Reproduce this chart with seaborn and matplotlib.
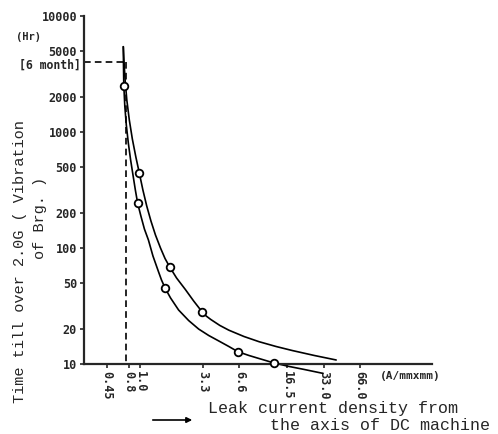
import numpy as np
import pandas as pd
import matplotlib
matplotlib.use('Agg')
import matplotlib.pyplot as plt
from matplotlib.patches import FancyArrowPatch
import seaborn as sns

# ---- donnees ----
# courbe superieure (droite)
up_x = [0.7218, 0.7328, 0.7470, 0.7720, 0.8096, 0.8577, 0.9173, 0.9810,
        1.0491, 1.1286, 1.2232, 1.3335, 1.4678, 1.6003, 1.7446, 1.9953,
        2.3579, 2.7652, 3.2426, 3.5142, 3.8312, 4.5531, 5.4117, 7.2176,
        9.6235, 13.335, 18.129, 27.652, 41.93]
up_y = [5436, 3933, 2807, 1887, 1269, 870.4, 608.5, 440.6,
        316.2, 230.2, 170.9, 129.4, 100, 81.2, 69.0, 55.1,
        43.9, 34.9, 28.2, 25.9, 24.2, 21.5, 19.56, 17.26,
        15.57, 14.15, 13.07, 11.84, 10.83]
# courbe inferieure (gauche)
lo_x = [0.7218, 0.7244, 0.7286, 0.7428, 0.7645, 0.7943, 0.8302, 0.8710,
        0.9085, 0.9495, 1.0096, 1.0798, 1.1659, 1.2710, 1.4125, 1.4962,
        1.6064, 1.7783, 2.0736, 2.5119, 3.0429, 3.6869, 4.4668, 5.4117,
        6.4323, 7.9433, 9.6235, 12.833, 17.113, 22.822, 32.42]
lo_y = [5436, 3780, 2542, 1675, 1149, 804, 573.7, 417.6,
        316.2, 242.8, 188.7, 145.8, 117.2, 85.3, 62.5, 53.0,
        44.9, 37.1, 29.2, 23.7, 20.0, 17.6, 15.79, 14.15,
        12.76, 11.84, 11.15, 10.2, 9.52, 8.97, 8.31]
# points mesures (cercles)
pt_x = [0.725, 0.981, 0.9495, 1.7446, 1.6064, 3.2426, 6.4323, 12.833]
pt_y = [2500, 440.6, 242.8, 69.0, 44.9, 28.2, 12.76, 10.2]

six_month = 3990
dash_x = 0.76

yticks = [10, 20, 50, 100, 200, 500, 1000, 2000, 5000, 10000]
xtick_pos = [0.53, 0.8, 1.0, 3.3, 6.6, 16.5, 33.0, 66.0]
xtick_lab = ['0.45', '0.8', '1.0', '3.3', '6.6', '16.5', '33.0', '66.0']

sns.set_style("ticks")
plt.rcParams['font.family'] = ['DejaVu Sans Mono']

fig = plt.figure(figsize=(4.98, 4.34), dpi=100)
ax = fig.add_axes([84/498, 1 - 364/434, (432 - 84)/498, (364 - 16)/434])

sns.lineplot(x=up_x, y=up_y, sort=False, estimator=None, color='black',
             linewidth=1.2, clip_on=False, solid_joinstyle='round', ax=ax)
sns.lineplot(x=lo_x, y=lo_y, sort=False, estimator=None, color='black',
             linewidth=1.2, clip_on=False, solid_joinstyle='round', ax=ax)
sns.scatterplot(x=pt_x, y=pt_y, s=30, facecolor='white', edgecolor='black',
                linewidth=1.3, zorder=5, clip_on=False, ax=ax)

ax.set_xscale('log')
ax.set_yscale('log')
ax.set_xlim(0.341, 261)
ax.set_ylim(10, 10000)

# lignes pointillees "6 mois"
ax.plot([0.341, dash_x], [six_month, six_month], 'k--', linewidth=1.2, dashes=(4, 2.5))
ax.plot([dash_x, dash_x], [six_month, 10], 'k--', linewidth=1.2, dashes=(4, 2.5))

ax.set_yticks(yticks)
ax.set_yticklabels([str(v) for v in yticks], fontsize=8.5, fontweight='bold')
ax.set_xticks(xtick_pos)
ax.set_xticklabels(xtick_lab, fontsize=8.5, fontweight='bold', rotation=270)
ax.minorticks_off()
ax.tick_params(axis='both', direction='out', length=3, width=1.2, pad=2)

for s in ['top', 'right']:
    ax.spines[s].set_visible(False)
for s in ['left', 'bottom']:
    ax.spines[s].set_linewidth(1.6)

# textes annexes
fig.text(28/498, 1 - 37/434, '(Hr)', fontsize=7.5, fontweight='bold', ha='center', va='center')
fig.text(81/498, 1 - 65/434, '[6 month]', fontsize=8.3, fontweight='bold', ha='right', va='center')
fig.text(380/498, 1 - 376/434, '(A/mmxmm)', fontsize=8, fontweight='bold', ha='left', va='center')

fig.text(20/498, 1 - 262/434, 'Time till over 2.0G ( Vibration', fontsize=11,
         family='Liberation Mono', rotation=90, ha='center', va='center')
fig.text(40/498, 1 - 218/434, 'of Brg. )', fontsize=11,
         family='Liberation Mono', rotation=90, ha='center', va='center')

fig.text(208/498, 1 - 408/434, 'Leak current density from', fontsize=12,
         family='Liberation Mono', ha='left', va='center')
fig.text(270/498, 1 - 426/434, 'the axis of DC machine', fontsize=12,
         family='Liberation Mono', ha='left', va='center')
fig.patches.append(FancyArrowPatch(
    (150/498, 1 - 420/434), (195/498, 1 - 420/434), transform=fig.transFigure,
    arrowstyle='-|>', mutation_scale=8, color='black', linewidth=1.2))

plt.savefig('out.png', dpi=100)
